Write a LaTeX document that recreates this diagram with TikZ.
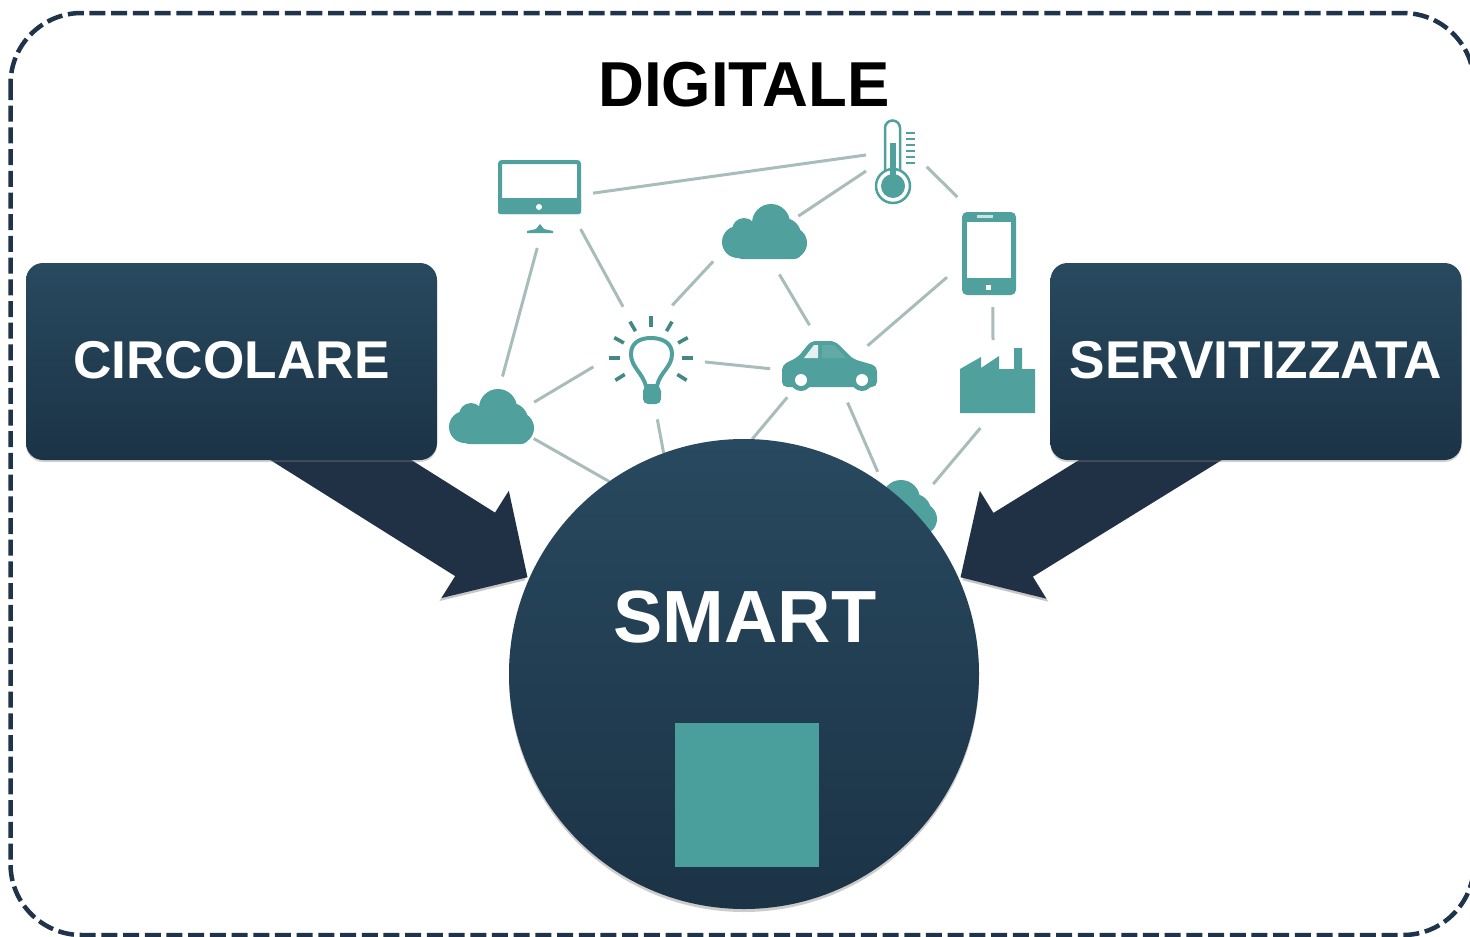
\documentclass[tikz,border=0pt]{standalone}
\usepackage{fontspec}
\setmainfont{Liberation Sans}
\usepackage{tikz}
\usetikzlibrary{arrows.meta,backgrounds,positioning,shadows,shapes.geometric}
\definecolor{navytop}{HTML}{28495F}
\definecolor{navybottom}{HTML}{1C3346}
\definecolor{arrowblue}{HTML}{203146}
\definecolor{framenavy}{HTML}{1F344A}
\definecolor{iconteal}{HTML}{50A09D}
\definecolor{squareteal}{HTML}{4A9F9C}
\definecolor{linkgrey}{HTML}{A8BDBB}
\tikzset{navybox/.style={rectangle,rounded corners=17pt,minimum width=411pt,minimum height=197pt,inner sep=0,
        top color=navytop,bottom color=navybottom,text=white,text depth=4pt,font=\bfseries\fontsize{53.2}{60}\selectfont,
        drop shadow={opacity=0.35,shadow xshift=0pt,shadow yshift=-2pt}},
    navycircle/.style={circle,minimum size=470pt,inner sep=0,outer sep=0,
        top color=navytop,bottom color=navybottom,
        drop shadow={opacity=0.4,shadow xshift=0pt,shadow yshift=-3pt}},
    dashframe/.style={draw=framenavy,line width=4.5pt,dash pattern=on 16pt off 5.7pt,rounded corners=71pt},
    blockarrow/.style={draw=arrowblue,line width=75pt,-{Triangle[length=62pt,width=123pt]},shorten <=-70pt,shorten >=2pt},
    netlink/.style={draw=linkgrey,line width=3pt},
    linkspot/.style={ellipse,inner sep=0,outer sep=0},
    iconline/.style={draw=iconteal,line width=4pt},
    iconfill/.style={fill=iconteal}
}
\newcommand{\cloudicon}[2]
{
% args: (x of cloud, y of cloud)
    \begin{scope}[shift={(#1,#2)}]
    \fill [iconfill] (-26,10) circle (16) (-20,-2) circle (12) (7,-9) circle (19) (20,3) circle (17) (27,11) circle (16);
    \fill [iconfill,rounded corners=8pt] (-30,0) rectangle (38,27);
    \end{scope}
}

\begin{document}
\begin{tikzpicture}[x=1pt,y=-1pt]

\useasboundingbox (0,0) rectangle (1470,937);
\clip (0,0) rectangle (1470,937);

\node (circolare) [navybox] at (231.5,361.5) {CIRCOLARE};
\node (servitizzata) [navybox] at (1256,361.5) {SERVITIZZATA};
\node (smart) [navycircle] at (744,674) {};
\node (smartlabel) [text=white,font=\bfseries\fontsize{74}{80}\selectfont] at (745,617) {SMART};
\node (smartsquare) [fill=squareteal,minimum size=144pt,inner sep=0] at (747,795) {};
\node (digitale) [font=\bfseries\fontsize{63.5}{70}\selectfont] at (744,85) {DIGITALE};

% spots the network lines stop at
\node (mon) [linkspot,minimum width=106pt,minimum height=106pt] at (540,195) {};
\node (bulb) [linkspot,minimum width=112pt,minimum height=120pt] at (649,360) {};
\node (cloudl) [linkspot,minimum width=96pt,minimum height=90pt] at (490,420) {};
\node (cloudt) [linkspot,minimum width=106pt,minimum height=76pt] at (757,240) {};
\node (therm) [linkspot,minimum width=62pt,minimum height=62pt] at (896,163) {};
\node (phone) [inner sep=0,outer sep=0,minimum width=84pt,minimum height=110pt] at (989,252) {};
\node (car) [linkspot,minimum width=104pt,minimum height=84pt] at (822,366) {};
\node (factory) [inner sep=0,outer sep=0,minimum width=60pt,minimum height=88pt] at (993,384) {};
\node (cloudb) [linkspot,minimum width=112pt,minimum height=112pt] at (895,525) {};

\begin{pgfonlayer}{background}

\draw [dashframe] (10.5,13) rectangle (1474,935);

\foreach \a/\b in {
    mon.2/therm.165,
    mon.-40/bulb.116,
    mon.-93/cloudl.74,
    cloudl.22/bulb.187,
    cloudl.-23/smart.125,
    bulb.67/cloudt.-154,
    bulb.-2/car.183,
    bulb.-82/smart.110,
    cloudt.30/therm.-165,
    cloudt.-57/car.107,
    therm.-7/phone.120,
    phone.-149/car.24,
    phone.-86/factory.90,
    car.-138/smart.88,
    car.-55/cloudb.108,
    factory.-106/cloudb.47}
    \draw [netlink] (\a) -- (\b);

% monitor
\draw [iconline,fill=white,rounded corners=2pt] (500,162) rectangle (579,212);
\fill [iconfill,rounded corners=2pt] (498,198) rectangle (581,214);
\fill [white] (539,207) circle (3);
\fill [iconfill] (527,231) -- (536,229) -- (540,224) -- (544,229) -- (553,231) -- (553,233) -- (527,233) -- cycle;

% bulb
\foreach \ang in {90,60,120,29,151,0,180,-32,212}
    \draw [iconline,line width=3.6pt,draw=iconteal!85!black] (651,358) ++(-\ang:31) -- ++(-\ang:11);
\draw [iconline] (646,386) .. controls (642,372) and (631,367) .. (631,354)
    .. controls (631,342) and (641,338) .. (651,338) .. controls (661,338) and (672,342) .. (672,354)
    .. controls (672,367) and (660,372) .. (657,386) -- cycle;
\fill [iconfill,rounded corners=5pt] (643,386) rectangle (661,404);

% clouds
\cloudicon{491}{417}
\cloudicon{764}{232}
\cloudicon{894}{508}

% thermometer
\draw [iconline,line width=2.5pt] (885,172) -- (885,128) arc (180:360:7.5) -- (900,172);
\draw [iconline,line width=2.5pt,fill=white] (893,186) circle (17);
\fill [iconfill] (893,186) circle (12);
\fill [iconfill] (890,143) rectangle (896,180);
\foreach \y in {133,139,...,166}
    \draw [iconline,line width=1.8pt] (906,\y) -- (915,\y);

% phone
\fill [iconfill,rounded corners=5pt] (962,212) rectangle (1016,295);
\fill [white] (967,222) rectangle (1011,278);
\fill [white] (986,285) rectangle (991,290);
\fill [white!70!iconteal] (977,215) rectangle (993,218);

% car
\fill [iconfill,rounded corners=5pt] (782,387) -- (782,365) -- (798,357) -- (811,341) -- (835,341) -- (853,359) -- (877,366)
    -- (877,387) -- cycle;
\fill [white!85!iconteal] (804,358) -- (814,345) -- (818,345) -- (818,358) -- cycle;
\fill [white!10!iconteal] (822,345) -- (834,345) -- (846,358) -- (822,358) -- cycle;
\foreach \x in {801,862}
{
    \fill [iconfill] (\x,380) circle (11);
    \fill [white] (\x,380) circle (6);
}

% factory
\fill [iconfill] (960,413) -- (960,369) -- (981,357) -- (981,368) -- (999,356) -- (999,369) -- (1014,369) -- (1014,348)
    -- (1022,348) -- (1022,369) -- (1035,369) -- (1035,413) -- cycle;

% arrows into the circle
\draw [blockarrow,preaction={draw=black!22,transform canvas={shift={(-2pt,-3pt)}}}] (circolare.-42) -- (smart.156);
\draw [blockarrow,preaction={draw=black!22,transform canvas={shift={(2pt,-3pt)}}}] (servitizzata.-137.6) -- (smart.24.5);

\end{pgfonlayer}

\end{tikzpicture}
\end{document}
